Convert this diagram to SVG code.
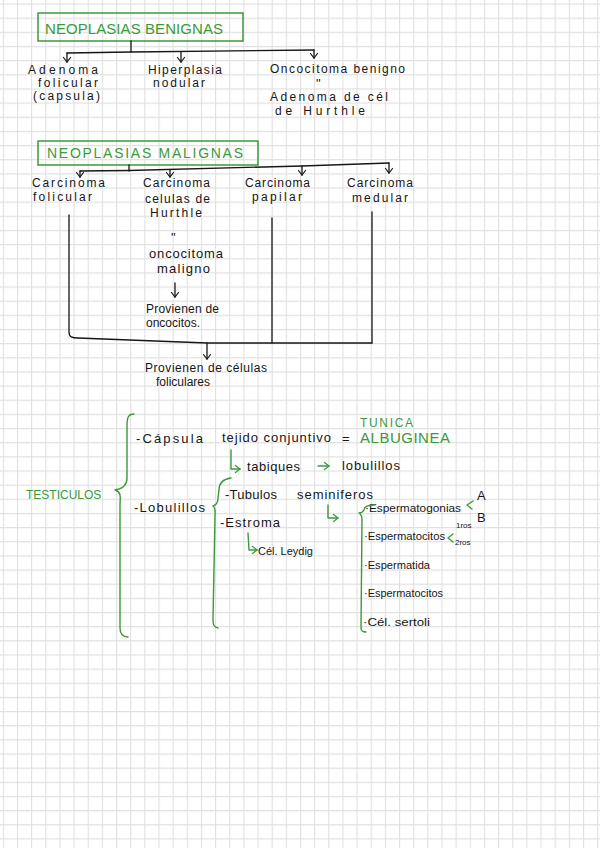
<svg xmlns="http://www.w3.org/2000/svg" width="600" height="848" viewBox="0 0 600 848">
<style>
.t{font-family:"Liberation Sans",Arial,sans-serif;font-size:13px;fill:#161616;}
.s{font-size:12px;}
.g{font-family:"Liberation Sans",Arial,sans-serif;fill:#3a9a3a;}
.ln{fill:none;stroke:#161616;stroke-width:1.3;stroke-linecap:round;stroke-linejoin:round;}
.gl{fill:none;stroke:#3a9a3a;stroke-width:1.4;stroke-linecap:round;stroke-linejoin:round;}
.box{fill:none;stroke:#3a9a3a;stroke-width:1.5;}
.sm{font-size:8px;}
.li{font-size:11.5px;}
</style>
<defs>
<pattern id="grid" x="2.8" y="3.5" width="14.15" height="14.15" patternUnits="userSpaceOnUse">
<path d="M0.5,0 V14.15 M0,0.5 H14.15" stroke="#e0e0e0" stroke-width="1.2" fill="none"/>
</pattern>
<marker id="ah" viewBox="-6 -5 7 10" refX="0" refY="0" markerWidth="7" markerHeight="10" markerUnits="userSpaceOnUse" orient="auto">
<path d="M-4.5,-3.5 L0,0 L-4.5,3.5" fill="none" stroke="#161616" stroke-width="1.2" stroke-linecap="round"/>
</marker>
<marker id="ahg" viewBox="-6 -5 7 10" refX="0" refY="0" markerWidth="7" markerHeight="10" markerUnits="userSpaceOnUse" orient="auto">
<path d="M-4.5,-3.5 L0,0 L-4.5,3.5" fill="none" stroke="#3a9a3a" stroke-width="1.3" stroke-linecap="round"/>
</marker>
</defs>
<rect width="600" height="848" fill="#ffffff"/>
<rect width="600" height="848" fill="url(#grid)"/>

<g id="benignas">
<rect class="box" x="38" y="13" width="205" height="28"/>
<text class="g" x="45" y="34" font-size="15" textLength="178">NEOPLASIAS  BENIGNAS</text>
</g>
<g id="adenoma-folicular">
<text class="t s" x="28" y="74" textLength="70">Adenoma</text>
<text class="t s" x="38" y="87" textLength="60">folicular</text>
<text class="t s" x="33" y="100" textLength="67">(capsula)</text>
</g>
<g id="hiperplasia">
<text class="t s" x="148" y="74" textLength="74">Hiperplasia</text>
<text class="t s" x="153" y="87" textLength="52">nodular</text>
</g>
<g id="oncocitoma-benigno">
<text class="t s" x="270" y="73" textLength="135">Oncocitoma benigno</text>
<text class="t" x="316" y="88" font-size="9">"</text>
<text class="t s" x="270" y="101" textLength="118">Adenoma de cél</text>
<text class="t s" x="275" y="115" textLength="90">de Hurthle</text>
</g>

<g id="malignas">
<rect class="box" x="38" y="141" width="220" height="24"/>
<text class="g" x="47" y="158" font-size="14" textLength="196">NEOPLASIAS  MALIGNAS</text>
</g>
<g id="carcinoma-folicular">
<text class="t s" x="32" y="187" textLength="73">Carcinoma</text>
<text class="t s" x="33" y="201" textLength="59">folicular</text>
</g>
<g id="carcinoma-hurthle">
<text class="t s" x="143" y="187" textLength="67">Carcinoma</text>
<text class="t s" x="145" y="203" textLength="65">celulas de</text>
<text class="t s" x="150" y="217" textLength="52">Hurthle</text>
<text class="t" x="171" y="242" font-size="10">"</text>
<text class="t" x="149" y="258" textLength="74">oncocitoma</text>
<text class="t" x="157" y="273" textLength="53">maligno</text>
<text class="t s" x="146" y="313" textLength="73">Provienen de</text>
<text class="t s" x="146" y="327" textLength="54">oncocitos.</text>
</g>
<g id="carcinoma-papilar">
<text class="t s" x="245" y="187" textLength="65">Carcinoma</text>
<text class="t s" x="252" y="201" textLength="50">papilar</text>
</g>
<g id="carcinoma-medular">
<text class="t s" x="347" y="187" textLength="66">Carcinoma</text>
<text class="t s" x="352" y="202" textLength="56">medular</text>
</g>
<g id="provienen-foliculares">
<text class="t s" x="145" y="372" textLength="122">Provienen de células</text>
<text class="t s" x="156" y="386" textLength="54">foliculares</text>
</g>

<g id="testiculos">
<text class="g" x="26" y="499" font-size="12">TESTICULOS</text>
</g>
<g id="capsula">
<text class="t" x="136" y="443" textLength="67">-Cápsula</text>
<text class="t" x="222" y="442" textLength="109">tejido conjuntivo</text>
<text class="t" x="342" y="443">=</text>
<text class="g" x="360" y="427" font-size="12" textLength="53">TUNICA</text>
<text class="g" x="360" y="443" font-size="15" textLength="90">ALBUGINEA</text>
<text class="t" x="247" y="471" textLength="53">tabiques</text>
<text class="t" x="342" y="470" textLength="58">lobulillos</text>
</g>
<g id="lobulillos">
<text class="t" x="134" y="512" textLength="71">-Lobulillos</text>
</g>
<g id="tubulos">
<text class="t" x="225" y="499" textLength="52">-Tubulos</text>
<text class="t" x="297" y="499" textLength="76">seminiferos</text>
</g>
<g id="estroma">
<text class="t" x="220" y="527" textLength="60">-Estroma</text>
<text class="t li" x="258" y="555" textLength="55" lengthAdjust="spacingAndGlyphs">Cél. Leydig</text>
</g>
<g id="celulas-tubulo">
<text class="t li" x="365" y="512" textLength="96" lengthAdjust="spacingAndGlyphs">·Espermatogonias</text>
<text class="t" x="477" y="500" font-size="11">A</text>
<text class="t" x="477" y="522" font-size="11">B</text>
<text class="t li" x="364" y="540" textLength="81" lengthAdjust="spacingAndGlyphs">·Espermatocitos</text>
<text class="t sm" x="456" y="528">1ros</text>
<text class="t sm" x="455" y="545">2ros</text>
<text class="t li" x="364" y="569" textLength="66" lengthAdjust="spacingAndGlyphs">·Espermatida</text>
<text class="t li" x="364" y="597" textLength="79" lengthAdjust="spacingAndGlyphs">·Espermatocitos</text>
<text class="t li" x="363" y="626" textLength="67" lengthAdjust="spacingAndGlyphs">·Cél. sertoli</text>
</g>

<g id="connectors">
<path class="ln" d="M131,41 L131,52"/>
<path class="ln" d="M67,53 L131,52 L314,50"/>
<path class="ln" d="M67,53 L67,62" marker-end="url(#ah)"/>
<path class="ln" d="M181,52 L181,62" marker-end="url(#ah)"/>
<path class="ln" d="M314,50 L314,58" marker-end="url(#ah)"/>
<path class="ln" d="M129,165 L129,171"/>
<path class="ln" d="M80,171 L129,170.5 L302,166 L389,163"/>
<path class="ln" d="M80,171 L80,177" marker-end="url(#ah)"/>
<path class="ln" d="M170,170 L170,177" marker-end="url(#ah)"/>
<path class="ln" d="M302,166 L302,175" marker-end="url(#ah)"/>
<path class="ln" d="M389,163 L389,173" marker-end="url(#ah)"/>
<path class="ln" d="M69,215 L69,332 C69,337 72,338 78,338 L207,343 L372,343"/>
<path class="ln" d="M272,218 L272,343"/>
<path class="ln" d="M372,212 L372,343"/>
<path class="ln" d="M207,343 L207,359" marker-end="url(#ah)"/>
<path class="ln" d="M175,283 L175,297" marker-end="url(#ah)"/>
<path class="gl" d="M134,414 C128,414 127,418 127,426 L127,478 C127,486 122,489 115,490 C122,492 120,498 120,505 L120,628 C120,634 123,637 128,637"/>
<path class="gl" d="M231,478 C223,479 219,483 219,490 L218,498 C218,503 216,505 213,506 C216,508 215,512 215,516 L213,620 C213,625 214,627 218,628"/>
<path class="gl" d="M375,505 C368,505 364,507 364,510 C363,512 361,513 359,513 C362,515 362,517 362,520 L361,628 C361,631 362,632 366,632"/>
<path class="gl" d="M231,450 L231,469 L240,469" marker-end="url(#ahg)"/>
<path class="gl" d="M318,466 L329,466" marker-end="url(#ahg)"/>
<path class="gl" d="M328,505 L328,518 L338,518" marker-end="url(#ahg)"/>
<path class="gl" d="M248,533 L249,550 L257,550" marker-end="url(#ahg)"/>
<path class="gl" d="M473,501 L467,505 L472,509"/>
<path class="gl" d="M453,534 L448,538 L453,542"/>
</g>
</svg>
